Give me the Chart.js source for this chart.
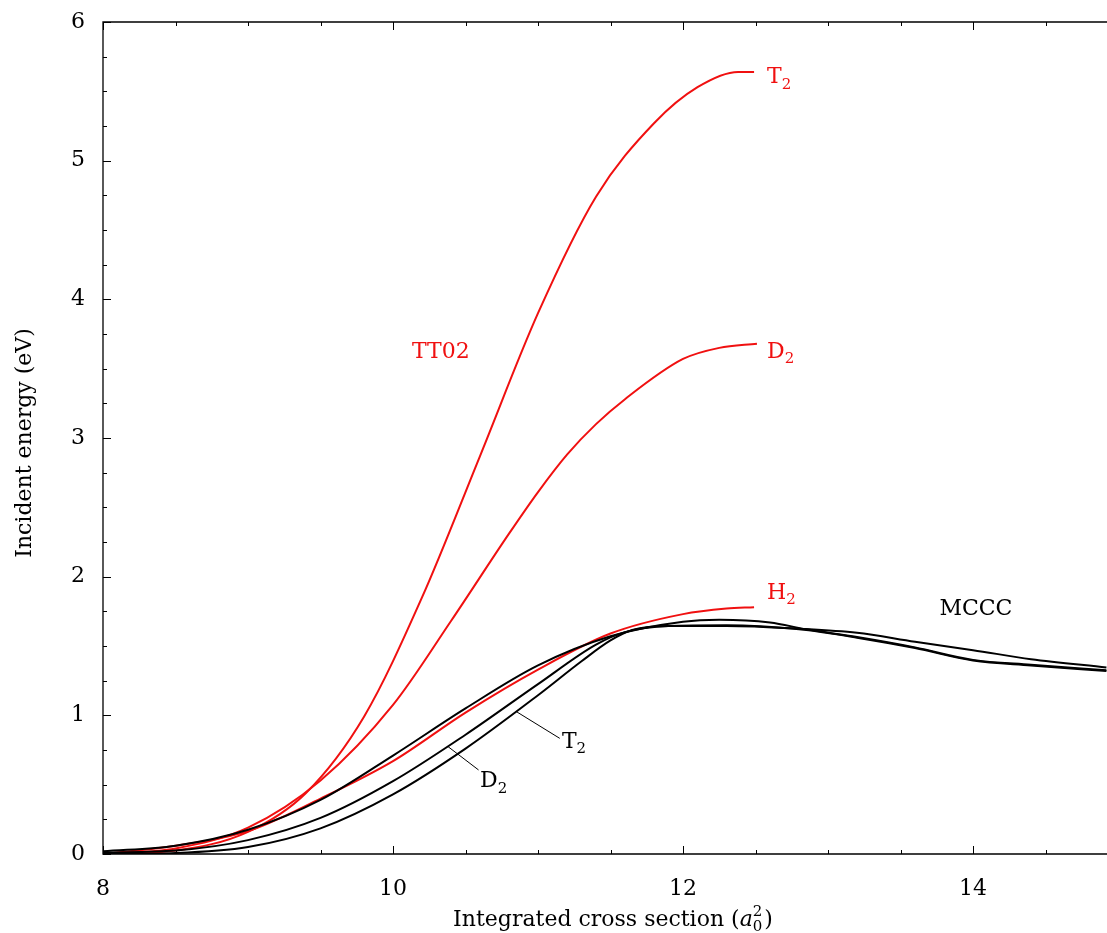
<!DOCTYPE html>
<html>
<head>
<meta charset="utf-8">
<title>Incident energy vs integrated cross section</title>
<script src="https://cdn.jsdelivr.net/npm/chart.js@4/dist/chart.umd.min.js"></script>
<style>
  html, body { margin: 0; padding: 0; background: #fff; }
  canvas { display: block; }
</style>
</head>
<body>
<canvas id="energyChart" width="1107" height="933"></canvas>
<script>
// TT02 curves (red)
const tt02T2X = [8, 8.5, 9.0, 9.4, 9.8, 10.2, 10.6, 11.0, 11.4, 11.8, 12.1, 12.38, 12.49];
const tt02T2Y = [0, 0.025, 0.16, 0.44, 0.99, 1.85, 2.87, 3.90, 4.74, 5.27, 5.53, 5.64, 5.64];

const tt02D2X = [8, 8.5, 9.0, 9.5, 10.0, 10.4, 10.8, 11.0, 11.2, 11.4, 11.6, 12.0, 12.25, 12.51];
const tt02D2Y = [0, 0.04, 0.19, 0.53, 1.075, 1.68, 2.31, 2.61, 2.88, 3.10, 3.28, 3.57, 3.65, 3.68];

const tt02H2X = [8, 8.5, 9.0, 9.5, 10.0, 10.5, 11.0, 11.5, 12.0, 12.3, 12.49];
const tt02H2Y = [0, 0.06, 0.165, 0.40, 0.67, 1.02, 1.33, 1.59, 1.73, 1.77, 1.78];

// MCCC curves (black)
const mcccH2X = [8, 8.5, 9.0, 9.5, 10.0, 10.5, 11.0, 11.5, 12.0, 12.25, 12.6, 12.85, 13.2, 13.6, 14.0, 14.4, 14.92];
const mcccH2Y = [0.02, 0.06, 0.175, 0.39, 0.71, 1.05, 1.36, 1.57, 1.675, 1.69, 1.67, 1.62, 1.565, 1.49, 1.40, 1.365, 1.325];

const mcccD2X = [8, 8.5, 9.0, 9.5, 10.0, 10.5, 11.0, 11.4, 11.6, 11.9, 12.3, 12.8, 13.2, 13.6, 14.0, 14.4, 14.92];
const mcccD2Y = [0.01, 0.025, 0.10, 0.26, 0.525, 0.86, 1.225, 1.51, 1.60, 1.645, 1.65, 1.62, 1.56, 1.485, 1.395, 1.36, 1.32];

const mcccT2X = [8, 8.5, 9.0, 9.5, 10.0, 10.5, 11.0, 11.3, 11.5, 11.65, 11.9, 12.3, 12.8, 13.2, 13.6, 14.0, 14.4, 14.92];
const mcccT2Y = [0.0, 0.007, 0.05, 0.185, 0.43, 0.76, 1.145, 1.39, 1.54, 1.615, 1.645, 1.645, 1.625, 1.595, 1.53, 1.47, 1.405, 1.345];

const xMin = 8, xMax = 14.924;
const yMin = 0, yMax = 6;

const RED = "#f01010";
const FONT = "'DejaVu Serif', 'Liberation Serif', serif";
const SIZE = 22;

function toPoints(xs, ys) {
  return xs.map((x, i) => ({ x: x, y: ys[i] }));
}

function curve(xs, ys, color) {
  return {
    data: toPoints(xs, ys),
    borderColor: color,
    borderWidth: 2,
    pointRadius: 0,
    fill: false,
    cubicInterpolationMode: "monotone"
  };
}

// text with a subscript, e.g. T_2
function drawSub(ctx, base, sub, x, y, color) {
  ctx.save();
  ctx.fillStyle = color;
  ctx.textBaseline = "alphabetic";
  ctx.textAlign = "left";
  ctx.font = SIZE + "px " + FONT;
  const wb = ctx.measureText(base).width;
  ctx.fillText(base, x, y);
  ctx.font = Math.round(SIZE * 0.7) + "px " + FONT;
  ctx.fillText(sub, x + wb, y + SIZE * 0.25);
  ctx.restore();
}

const frame = {
  id: "frame",
  afterDraw(chart) {
    const ctx = chart.ctx;
    const a = chart.chartArea;
    const xs = chart.scales.x, ys = chart.scales.y;
    ctx.save();
    ctx.strokeStyle = "#000";
    ctx.lineWidth = 1.3;
    ctx.beginPath();
    ctx.moveTo(a.right, a.top); ctx.lineTo(a.left, a.top);
    ctx.lineTo(a.left, a.bottom); ctx.lineTo(a.right, a.bottom);
    ctx.stroke();

    // inward ticks, bottom and top
    ctx.lineWidth = 1;
    for (let v = 8; v <= xMax + 1e-6; v += 0.5) {
      const px = Math.round(xs.getPixelForValue(v)) + 0.5;
      const len = Math.abs(v % 2) < 1e-6 ? 8 : 4;
      ctx.beginPath();
      ctx.moveTo(px, a.bottom); ctx.lineTo(px, a.bottom - len);
      ctx.moveTo(px, a.top); ctx.lineTo(px, a.top + len);
      ctx.stroke();
    }
    // inward ticks, left
    for (let v = 0; v <= yMax + 1e-6; v += 0.25) {
      const py = Math.round(ys.getPixelForValue(v)) + 0.5;
      const len = Math.abs(v % 1) < 1e-6 ? 8 : 4;
      ctx.beginPath();
      ctx.moveTo(a.left, py); ctx.lineTo(a.left + len, py);
      ctx.stroke();
    }

    // axis titles
    ctx.fillStyle = "#000";
    ctx.font = SIZE + "px " + FONT;
    const t1 = "Integrated cross section (";
    const w1 = ctx.measureText(t1).width;
    ctx.font = "italic " + SIZE + "px " + FONT;
    const wa = ctx.measureText("a").width;
    ctx.font = "15px " + FONT;
    const w0 = ctx.measureText("0").width;
    ctx.font = SIZE + "px " + FONT;
    const wp = ctx.measureText(")").width;
    const total = w1 + wa + w0 + 2 + wp;
    const tx = 613 - total / 2;
    const ty = 926;
    ctx.textAlign = "left";
    ctx.textBaseline = "alphabetic";
    ctx.fillText(t1, tx, ty);
    ctx.font = "italic " + SIZE + "px " + FONT;
    ctx.fillText("a", tx + w1, ty);
    ctx.font = "15px " + FONT;
    ctx.fillText("0", tx + w1 + wa, ty + 5);
    ctx.fillText("2", tx + w1 + wa, ty - 10);
    ctx.font = SIZE + "px " + FONT;
    ctx.fillText(")", tx + w1 + wa + w0 + 2, ty);

    ctx.save();
    ctx.translate(31, 443);
    ctx.rotate(-Math.PI / 2);
    ctx.textAlign = "center";
    ctx.fillText("Incident energy (eV)", 0, 0);
    ctx.restore();

    // curve labels, placed in data coordinates
    const X = v => xs.getPixelForValue(v);
    const Y = v => ys.getPixelForValue(v);
    ctx.font = SIZE + "px " + FONT;
    ctx.fillStyle = RED;
    ctx.textAlign = "center";
    ctx.fillText("TT02", X(10.33), Y(3.58));
    drawSub(ctx, "T", "2", X(12.58), Y(5.56), RED);
    drawSub(ctx, "D", "2", X(12.58), Y(3.58), RED);
    drawSub(ctx, "H", "2", X(12.58), Y(1.84), RED);
    ctx.fillStyle = "#000";
    ctx.textAlign = "center";
    ctx.fillText("MCCC", X(14.02), Y(1.72));

    // leader lines for the MCCC isotopes
    ctx.strokeStyle = "#000";
    ctx.lineWidth = 1;
    ctx.beginPath();
    ctx.moveTo(X(10.852), Y(1.026)); ctx.lineTo(X(11.15), Y(0.834));
    ctx.moveTo(X(10.38), Y(0.774)); ctx.lineTo(X(10.59), Y(0.606));
    ctx.stroke();
    drawSub(ctx, "T", "2", X(11.165), Y(0.765), "#000");
    drawSub(ctx, "D", "2", X(10.6), Y(0.483), "#000");
    ctx.restore();
  }
};

const tickFont = { family: FONT, size: SIZE };

new Chart(document.getElementById("energyChart"), {
  type: "line",
  data: {
    datasets: [
      curve(mcccH2X, mcccH2Y, "#000"),
      curve(mcccD2X, mcccD2Y, "#000"),
      curve(mcccT2X, mcccT2Y, "#000"),
      curve(tt02H2X, tt02H2Y, RED),
      curve(tt02D2X, tt02D2Y, RED),
      curve(tt02T2X, tt02T2Y, RED)
    ]
  },
  options: {
    responsive: false,
    animation: false,
    devicePixelRatio: 1,
    layout: { padding: { top: 22, right: 0, left: 0, bottom: 0 } },
    plugins: { legend: { display: false }, tooltip: { enabled: false } },
    scales: {
      x: {
        type: "linear",
        min: xMin,
        max: xMax,
        grid: { display: false },
        border: { display: false },
        ticks: { stepSize: 2, includeBounds: false, color: "#000", font: tickFont, padding: 14 },
        afterFit(scale) { scale.height = 79; scale.paddingLeft = 0; scale.paddingRight = 0; }
      },
      y: {
        min: yMin,
        max: yMax,
        grid: { display: false },
        border: { display: false },
        ticks: { stepSize: 1, color: "#000", font: tickFont, padding: 10 },
        afterFit(scale) { scale.width = 103; scale.paddingTop = 0; scale.paddingBottom = 0; }
      }
    }
  },
  plugins: [frame]
});
</script>
</body>
</html>
